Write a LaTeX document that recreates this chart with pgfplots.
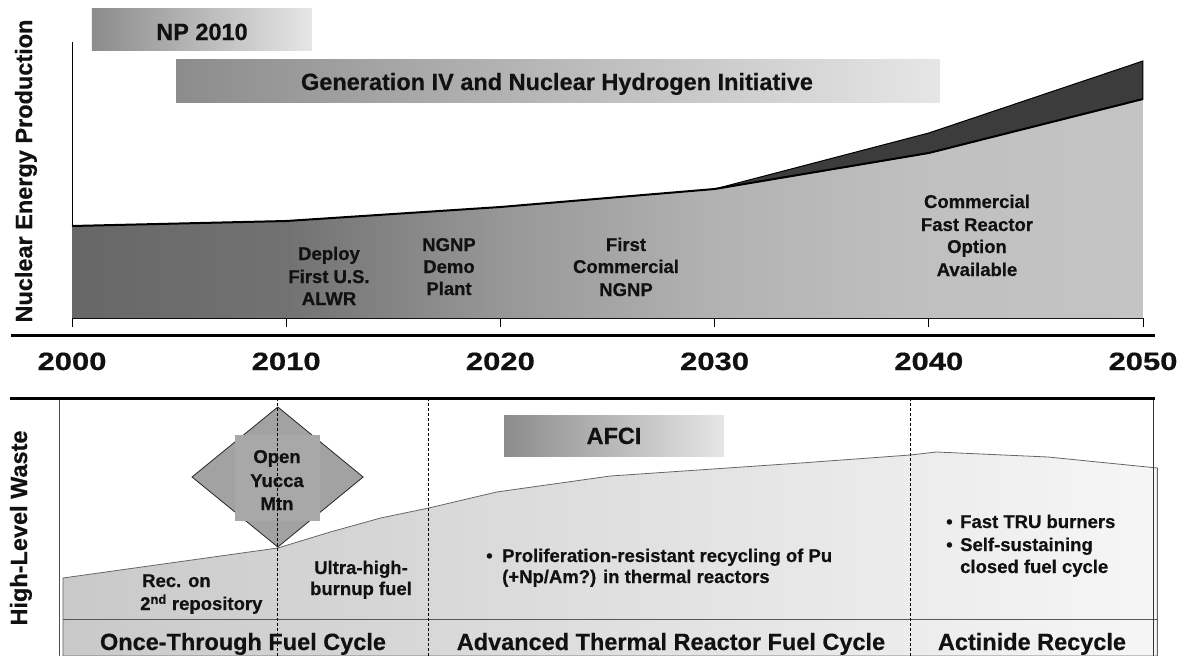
\documentclass[border=0pt]{standalone}
\usepackage{pgfplots}
\pgfplotsset{compat=1.18}
\usepackage{fontspec}
\setmainfont{Liberation Sans}[BoldFeatures={FakeBold=0.5}]
\definecolor{t0}{HTML}{676767}
\definecolor{t1}{HTML}{727272}
\definecolor{t2}{HTML}{979797}
\definecolor{t3}{HTML}{B2B2B2}
\definecolor{t4}{HTML}{C0C0C0}
\definecolor{t5}{HTML}{C4C4C4}
\definecolor{darkband}{HTML}{3C3C3C}
\definecolor{bL}{HTML}{8C8C8C}
\definecolor{bR}{HTML}{E6E6E6}
\definecolor{wL}{HTML}{C9C9C9}
\definecolor{wR}{HTML}{F6F6F6}
\definecolor{dia}{HTML}{A2A2A2}
\definecolor{sq}{HTML}{A8A8A8}
\definecolor{txt}{HTML}{111111}
\pgfdeclarehorizontalshading{topshade}{100bp}{color(0bp)=(t0); color(25bp)=(t0); color(35bp)=(t1); color(45bp)=(t2); color(55bp)=(t3); color(65bp)=(t4); color(75bp)=(t5); color(100bp)=(t5)}
\newcommand{\fbig}{\fontsize{23.5bp}{28bp}\selectfont\bfseries}
\newcommand{\fsmall}{\fontsize{18.5bp}{22bp}\selectfont\bfseries}
\newcommand{\fyear}{\fontsize{25bp}{30bp}\selectfont\bfseries}
\begin{document}
\begin{tikzpicture}
% ---------- top panel: nuclear energy production ----------
\begin{axis}[at={(72bp,-318bp)}, anchor=south west, scale only axis,
  width=1071bp, height=276bp, xmin=2000, xmax=2050, ymin=0, ymax=276,
  axis x line*=bottom, axis y line*=left,
  axis line style={-, black, line width=0.9bp},
  xtick={2000,2010,2020,2030,2040,2050}, xticklabels={}, ytick=\empty,
  tick align=outside, major tick length=9bp,
  tick style={black, line width=0.9bp}, clip=false]
\path[left color=bL, right color=bR] (axis cs:2000.93,267) rectangle (axis cs:2011.2,309);
\path[left color=bL, right color=bR] (axis cs:2004.86,216) rectangle (axis cs:2040.5,258);
\addplot[draw=none, shade, shading=topshade] coordinates {(2000,92) (2010,97) (2015,104) (2020,111) (2025,120) (2030,129) (2040,165) (2050,219)} \closedcycle;
\addplot[fill=darkband, draw=black, line width=1bp] coordinates {(2030,129) (2040,185) (2050,257) (2050,219) (2040,165) (2030,129)};
\addplot[black, line width=2bp] coordinates {(2000,92) (2010,97) (2015,104) (2020,111) (2025,120) (2030,129) (2040,165) (2050,219)};
\end{axis}
% ---------- bottom panel: high-level waste ----------
\begin{axis}[at={(59bp,-656bp)}, anchor=south west, scale only axis,
  width=1094bp, height=258bp, xmin=2000, xmax=2050, ymin=0, ymax=258,
  hide axis, clip=false]
\addplot[draw=black!60, line width=0.8bp, left color=wL, right color=wR] coordinates {(2000.18,78) (2010,108) (2012.4,124) (2014.7,138) (2016.9,148) (2020,164) (2025.2,180) (2033.9,193) (2038.9,201) (2040.1,204) (2045.2,199) (2050.2,188)} \closedcycle;
\addplot[black!65, line width=1bp] coordinates {(2000.18,37) (2050.2,37)};
\draw[black!70, line width=1bp] (axis cs:2000,0) -- (axis cs:2000,258);
\draw[black!80, line width=1bp] (axis cs:2050,0) -- (axis cs:2050,258);
\path[left color=bL, right color=bR] (axis cs:2020.34,200) rectangle (axis cs:2030.39,241);
\addplot[fill=dia, draw=black!85, line width=0.8bp] coordinates {(2010,249) (2013.9,179) (2010,109) (2006.08,179) (2010,249)};
\fill[sq] (axis cs:2008.04,135) rectangle (axis cs:2011.93,221);
\draw[black, line width=0.8bp, dash pattern=on 3bp off 2bp] (axis cs:2010,0) -- (axis cs:2010,258);
\draw[black, line width=0.8bp, dash pattern=on 3bp off 2bp] (axis cs:2016.9,0) -- (axis cs:2016.9,258);
\draw[black, line width=0.8bp, dash pattern=on 3bp off 2bp] (axis cs:2038.9,0) -- (axis cs:2038.9,258);
\end{axis}
% ---------- frame lines and text ----------
\begin{scope}[x=1bp, y=-1bp, every node/.style={text=txt, inner sep=0pt}]
\draw[line width=3.5bp] (11,335.5) -- (1155,335.5);
\draw[line width=3.5bp] (10,398.5) -- (1155,398.5);
\node[rotate=90, anchor=base, font=\fbig] at (32,171) {Nuclear Energy Production};
\node[rotate=90, anchor=base, font=\fbig] at (27,528) {High-Level Waste};
\foreach \xx/\yy in {72/2000, 286.2/2010, 500.4/2020, 714.6/2030, 928.8/2040, 1143/2050}
  \node[anchor=base, font=\fyear] at (\xx,370) {\scalebox{1.24}[1]{\yy}};
\node[anchor=base, font=\fbig] at (202,40) {NP 2010};
\node[anchor=base, font=\fbig] at (557,90) {Generation IV and Nuclear Hydrogen Initiative};
\node[anchor=base, font=\fbig] at (614,444) {AFCI};
% top panel labels
\node[anchor=base, font=\fsmall] at (329,260) {Deploy};
\node[anchor=base, font=\fsmall] at (329,283) {First U.S.};
\node[anchor=base, font=\fsmall] at (329,305) {ALWR};
\node[anchor=base, font=\fsmall] at (449,251) {NGNP};
\node[anchor=base, font=\fsmall] at (449,273) {Demo};
\node[anchor=base, font=\fsmall] at (449,295) {Plant};
\node[anchor=base, font=\fsmall] at (626,251) {First};
\node[anchor=base, font=\fsmall] at (626,273) {Commercial};
\node[anchor=base, font=\fsmall] at (626,296) {NGNP};
\node[anchor=base, font=\fsmall] at (977,208) {Commercial};
\node[anchor=base, font=\fsmall] at (977,231) {Fast Reactor};
\node[anchor=base, font=\fsmall] at (977,253) {Option};
\node[anchor=base, font=\fsmall] at (977,276) {Available};
% bottom panel labels
\node[anchor=base, font=\fsmall] at (277,463) {Open};
\node[anchor=base, font=\fsmall] at (277,487) {Yucca};
\node[anchor=base, font=\fsmall] at (277,510) {Mtn};
\node[anchor=base west, font=\fsmall] at (142,587) {Rec. on};
\node[anchor=base west, font=\fsmall] at (140,610) {2\textsuperscript{nd} repository};
\node[anchor=base, font=\fsmall] at (361,574) {Ultra-high-};
\node[anchor=base, font=\fsmall] at (361,595) {burnup fuel};
\node[anchor=base west, font=\fsmall] at (486,562) {•};
\node[anchor=base west, font=\fsmall] at (502,562) {Proliferation-resistant recycling of Pu};
\node[anchor=base west, font=\fsmall] at (502,583) {(+Np/Am?) in thermal reactors};
\node[anchor=base west, font=\fsmall] at (946,528) {•};
\node[anchor=base west, font=\fsmall] at (960,528) {Fast TRU burners};
\node[anchor=base west, font=\fsmall] at (946,551) {•};
\node[anchor=base west, font=\fsmall] at (960,551) {Self-sustaining};
\node[anchor=base west, font=\fsmall] at (960,573) {closed fuel cycle};
\node[anchor=base, font=\fbig] at (243,650) {Once-Through Fuel Cycle};
\node[anchor=base, font=\fbig] at (671,650) {Advanced Thermal Reactor Fuel Cycle};
\node[anchor=base, font=\fbig] at (1032,650) {Actinide Recycle};
\end{scope}
\pgfresetboundingbox
\path[use as bounding box] (0bp,0bp) rectangle (1187bp,-656bp);
\end{tikzpicture}
\end{document}
